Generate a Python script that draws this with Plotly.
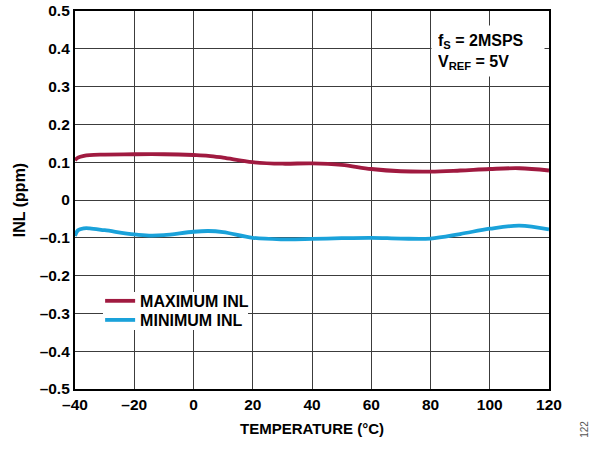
import plotly.graph_objects as go

temp_max = [-40, -39, -37, -35, -30, -20, -10, 0, 5, 10, 20, 30, 40, 50, 60, 70, 80, 90, 100, 110, 120]
inl_max = [0.105, 0.112, 0.117, 0.119, 0.120, 0.121, 0.121, 0.119, 0.117, 0.112, 0.100, 0.096, 0.097, 0.093, 0.082, 0.076, 0.075, 0.078, 0.082, 0.084, 0.078]

temp_min = [-40, -39, -37, -35, -30, -20, -15, -10, 0, 5, 10, 20, 30, 40, 50, 60, 70, 80, 90, 100, 110, 120]
inl_min = [-0.095, -0.080, -0.075, -0.075, -0.080, -0.091, -0.094, -0.093, -0.084, -0.082, -0.085, -0.100, -0.104, -0.103, -0.101, -0.100, -0.102, -0.102, -0.090, -0.076, -0.068, -0.078]

x_ticks = [-40, -20, 0, 20, 40, 60, 80, 100, 120]
x_ticklabels = ["–40", "–20", "0", "20", "40", "60", "80", "100", "120"]
y_ticks = [-0.5, -0.4, -0.3, -0.2, -0.1, 0, 0.1, 0.2, 0.3, 0.4, 0.5]
y_ticklabels = ["–0.5", "–0.4", "–0.3", "–0.2", "–0.1", "0", "0.1", "0.2", "0.3", "0.4", "0.5"]

font_family = "Liberation Sans, Arial, sans-serif"

fig = go.Figure()
fig.add_trace(go.Scatter(x=temp_max, y=inl_max, mode="lines", name="MAXIMUM INL", legend="legend",
                         line=dict(color="#A01A40", width=3.8, shape="spline", smoothing=1.0)))
fig.add_trace(go.Scatter(x=temp_min, y=inl_min, mode="lines", name="MINIMUM INL", legend="legend2",
                         line=dict(color="#1AA2DA", width=3.8, shape="spline", smoothing=1.0)))

legend_font = dict(family=font_family, size=16, color="black", weight="bold")

fig.update_layout(
    width=605, height=450,
    margin=dict(l=75, r=56, t=11, b=61),
    paper_bgcolor="white", plot_bgcolor="white",
    font=dict(family=font_family, size=15, color="black"),
    showlegend=True,
    legend=dict(x=0.053, y=0.233, xanchor="left", yanchor="middle",
                bgcolor="rgba(0,0,0,0)", borderwidth=0, font=legend_font, itemwidth=30),
    legend2=dict(x=0.053, y=0.1825, xanchor="left", yanchor="middle",
                 bgcolor="rgba(0,0,0,0)", borderwidth=0, font=legend_font, itemwidth=30),
    xaxis=dict(range=[-40, 120], tickmode="array", tickvals=x_ticks, ticktext=x_ticklabels,
               showgrid=True, gridcolor="#3c3c3c", gridwidth=1.2,
               showline=True, linecolor="black", linewidth=2.2, mirror=True,
               ticks="", zeroline=False, automargin=False,
               tickfont=dict(family=font_family, size=15.5, weight="bold"),
               title=dict(text="<b>TEMPERATURE (°C)</b>", standoff=12,
                          font=dict(family=font_family, size=15))),
    yaxis=dict(range=[-0.5, 0.5], tickmode="array", tickvals=y_ticks, ticktext=y_ticklabels,
               showgrid=True, gridcolor="#3c3c3c", gridwidth=1.2,
               showline=True, linecolor="black", linewidth=2.2, mirror=True,
               ticks="", zeroline=False, automargin=False,
               tickfont=dict(family=font_family, size=15.5, weight="bold"),
               title=dict(text="<b>INL (ppm)</b>", standoff=10,
                          font=dict(family=font_family, size=16))),
)

# white background behind the two legend entries (covers the grid, like the reference)
fig.add_shape(type="rect", xref="paper", yref="paper", x0=0.059, x1=0.365, y0=0.156, y1=0.2566,
              fillcolor="white", line=dict(width=0), layer="above")

fig.add_annotation(xref="paper", yref="paper", x=0.751, y=0.963, xanchor="left", yanchor="top",
                   text="<b>f<sub>S</sub> = 2MSPS<br>V<sub>REF</sub> = 5V</b>",
                   showarrow=False, align="left", valign="top", width=100, height=38,
                   bgcolor="white", borderpad=6,
                   font=dict(family=font_family, size=16, color="black"))

fig.add_annotation(xref="paper", yref="paper", x=1.076, y=-0.108, xanchor="center", yanchor="middle",
                   text="122", textangle=-90, showarrow=False,
                   font=dict(family=font_family, size=10, color="#555555"))

fig.write_html("out.html", config={"displayModeBar": False},
               post_script="document.body.style.margin='0';")
